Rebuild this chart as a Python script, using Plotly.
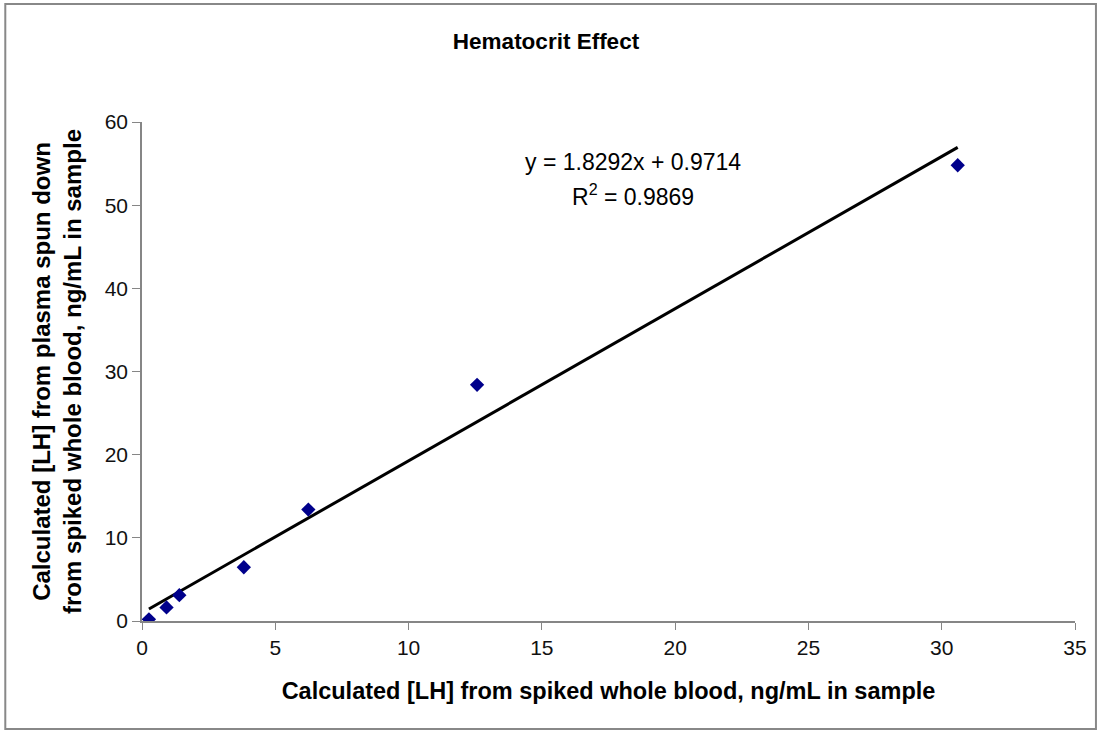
import plotly.graph_objects as go

# Data
x_vals = [0.26, 0.92, 1.40, 3.82, 6.24, 12.57, 30.6]
y_vals = [0.2, 1.63, 3.1, 6.46, 13.4, 28.4, 54.8]
slope = 1.8292
intercept = 0.9714
r_squared = 0.9869
x_ticks = [0, 5, 10, 15, 20, 25, 30, 35]
y_ticks = [0, 10, 20, 30, 40, 50, 60]

fit_x = [min(x_vals), max(x_vals)]
fit_y = [slope * v + intercept for v in fit_x]

FONT = "Liberation Sans, Arial, sans-serif"

fig = go.Figure()
fig.add_trace(go.Scatter(x=fit_x, y=fit_y, mode="lines",
                         line=dict(color="black", width=3), showlegend=False))
fig.add_trace(go.Scatter(x=x_vals, y=y_vals, mode="markers",
                         marker=dict(symbol="diamond", size=11, color="#00008B"),
                         showlegend=False))

L, R, T, B = 142, 22, 122, 110
W, H = 1099, 731
pw, ph = W - L - R, H - T - B

fig.update_layout(
    width=W, height=H,
    margin=dict(l=L, r=R, t=T, b=B),
    paper_bgcolor="white", plot_bgcolor="white",
    font=dict(family=FONT, color="black", size=21),
    title=dict(text="<b>Hematocrit Effect</b>", x=546 / W, xanchor="center",
               y=1 - 41 / H, yanchor="middle", font=dict(size=22.5, family=FONT)),
    xaxis=dict(range=[0, 35], tickvals=x_ticks, showgrid=False, zeroline=False,
               showline=True, linecolor="#868686", linewidth=1.5,
               ticks="outside", ticklen=7, tickcolor="#868686",
               tickfont=dict(size=21, color="#111"),
               title=dict(text="<b>Calculated [LH] from spiked whole blood, ng/mL in sample</b>",
                          font=dict(size=23.5), standoff=25)),
    yaxis=dict(range=[0, 60], tickvals=y_ticks, showgrid=False, zeroline=False,
               showline=True, linecolor="#868686", linewidth=1.5,
               ticks="outside", ticklen=8, tickcolor="#868686",
               tickfont=dict(size=21, color="#111"),
               title=dict(text="<b>Calculated [LH] from plasma spun down<br>from spiked whole blood, ng/mL in sample</b>",
                          font=dict(size=24), standoff=16)),
    annotations=[
        dict(text="y = 1.8292x + 0.9714", x=(634 - L) / pw, y=(H - B - 162) / ph,
             xref="paper", yref="paper", xanchor="center", yanchor="middle",
             showarrow=False, font=dict(size=23)),
        dict(text="R<sup>2</sup> = 0.9869", x=(634 - L) / pw, y=(H - B - 195) / ph,
             xref="paper", yref="paper", xanchor="center", yanchor="middle",
             showarrow=False, font=dict(size=23)),
    ],
    shapes=[dict(type="rect", xref="paper", yref="paper",
                 x0=(5 - L) / pw, x1=(1098 - L) / pw,
                 y0=(H - B - 729) / ph, y1=(H - B - 4) / ph,
                 line=dict(color="#888888", width=2), layer="below")],
)

fig.write_html("out.html")
